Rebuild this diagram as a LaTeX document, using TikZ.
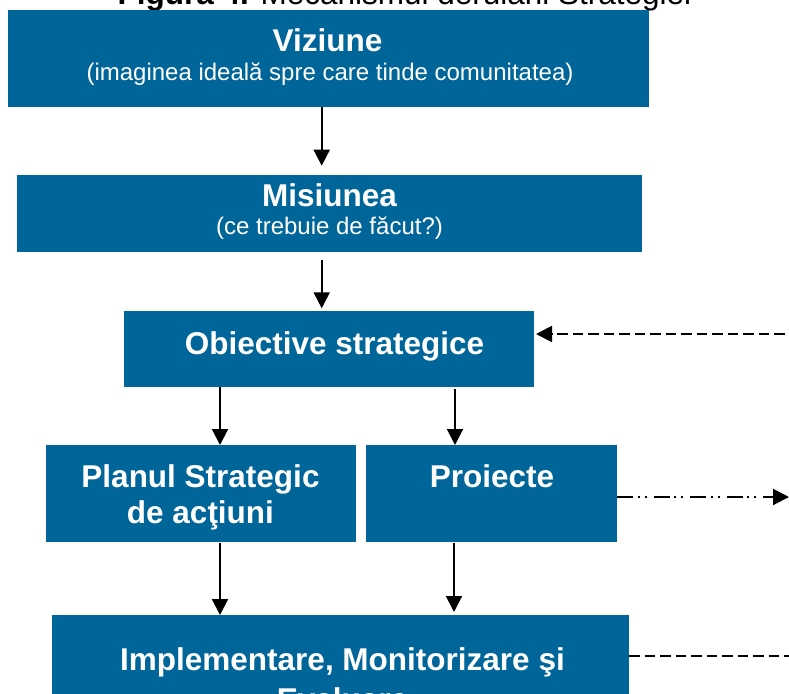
\documentclass[tikz,border=0pt]{standalone}
\usepackage{fontspec}
\setmainfont{Liberation Sans}
\usetikzlibrary{arrows.meta}
\definecolor{boxblue}{RGB}{0,102,153}
\tikzset{
  box/.style={fill=boxblue, draw=none, inner sep=0pt, outer sep=0pt, anchor=north west},
  btext/.style={text=white, font=\fontsize{31.5}{33}\selectfont\bfseries, anchor=base, inner sep=0pt},
  stext/.style={text=white, font=\fontsize{24}{26}\selectfont, anchor=base, inner sep=0pt},
  arr/.style={line width=2pt, -{Triangle[width=16pt,length=16pt]}},
  dasharr/.style={line width=2pt, dash pattern=on 10.5pt off 5pt},
  dotarr/.style={line width=2pt, dash pattern=on 16pt off 4.5pt on 2pt off 5pt on 2pt off 7pt}
}
\begin{document}
\begin{tikzpicture}[x=1pt,y=-1pt]
\clip (0,0) rectangle (789,693);
\useasboundingbox (0,0) rectangle (789,693);
% title (clipped at top, as in the reference)
\node[anchor=base, inner sep=0pt, font=\fontsize{31.5}{33}\selectfont] (title) at (404.5,5) {\textbf{Figura 4.} Mecanismul derulării Strategiei};
% boxes
\node[box, minimum width=641pt, minimum height=97pt] (viz) at (8,10) {};
\node[box, minimum width=625pt, minimum height=76.7pt] (mis) at (17,175) {};
\node[box, minimum width=410pt, minimum height=76pt] (obj) at (124,310.7) {};
\node[box, minimum width=310pt, minimum height=97.3pt] (plan) at (46,445) {};
\node[box, minimum width=251pt, minimum height=97.3pt] (proi) at (366,445) {};
\node[box, minimum width=577pt, minimum height=110pt] (impl) at (52,615) {};
% texts
\node[btext] (vizt) at (327.5,52) {Viziune};
\node[stext] (vizs) at (330,80) {(imaginea ideală spre care tinde comunitatea)};
\node[btext] (mist) at (329.5,206) {Misiunea};
\node[stext] (miss) at (329.5,234) {(ce trebuie de făcut?)};
\node[btext] (objt) at (334.5,354) {Obiective strategice};
\node[btext] (plant1) at (200.5,487) {Planul Strategic};
\node[btext] (plant2) at (200.5,523) {de acţiuni};
\node[btext] (proit) at (492,487) {Proiecte};
\node[btext] (implt1) at (342.5,670) {Implementare, Monitorizare şi};
\node[btext] (implt2) at (342.5,710) {Evaluare};
% vertical arrows
\draw[arr, shorten >=9.3pt] ([xshift=-6.8pt]viz.south) -- ([xshift=-7.8pt]mis.north);
\draw[arr, shorten <=8.3pt, shorten >=2.4pt] ([xshift=-7.8pt]mis.south) -- ([xshift=-7.3pt]obj.north);
\draw[arr] ([xshift=-109pt]obj.south) -- ([xshift=19pt]plan.north);
\draw[arr, shorten <=2pt] ([xshift=126pt]obj.south) -- ([xshift=-36.5pt]proi.north);
\draw[arr, shorten <=1pt] ([xshift=19pt]plan.south) -- ([xshift=-120.5pt]impl.north);
\draw[arr, shorten <=1pt, shorten >=3pt] ([xshift=-37.5pt]proi.south) -- ([xshift=113.5pt]impl.north);
% feedback / side lines
\coordinate (r1) at (800,334);
\coordinate (r2) at (789,497);
\coordinate (r3) at (800,656);
\draw[dasharr, -{Triangle[width=16pt,length=16pt]}, shorten >=2pt] (r1) -- (r1 -| obj.east);
\draw[dotarr, -{Triangle[width=16pt,length=16pt]}] (proi.east |- r2) -- (r2);
\draw[dasharr] (impl.east |- r3) -- (r3);
\end{tikzpicture}
\end{document}
